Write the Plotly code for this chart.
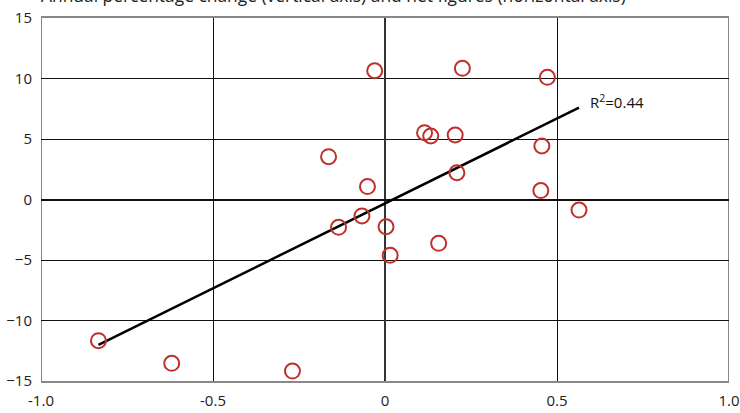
import numpy as np
import plotly.graph_objects as go

net_figures = [-0.833, -0.620, -0.269, -0.164, -0.135, -0.067, -0.051, -0.030, 0.003, 0.015,
               0.115, 0.133, 0.156, 0.204, 0.209, 0.225, 0.453, 0.456, 0.472, 0.564]
annual_change = [-11.67, -13.54, -14.18, 3.54, -2.30, -1.36, 1.07, 10.64, -2.25, -4.61,
                 5.52, 5.25, -3.62, 5.33, 2.21, 10.84, 0.74, 4.42, 10.10, -0.87]
x_ticks = [-1.0, -0.5, 0, 0.5, 1.0]
x_tick_labels = ["-1.0", "-0.5", "0", "0.5", "1.0"]
y_ticks = [-15, -10, -5, 0, 5, 10, 15]
title_text = "Annual percentage change (vertical axis) and net figures (horizontal axis)"

x = np.array(net_figures)
y = np.array(annual_change)
slope, intercept = np.polyfit(x, y, 1)
pred = slope * x + intercept
r2 = 1 - ((y - pred) ** 2).sum() / ((y - y.mean()) ** 2).sum()
fx = np.array([x.min(), x.max()])
fy = slope * fx + intercept

font = "Open Sans, Noto Sans, sans-serif"
fig = go.Figure()
fig.add_trace(go.Scatter(x=fx, y=fy, mode="lines", line=dict(color="black", width=2.5),
                         hoverinfo="skip", showlegend=False))
fig.add_trace(go.Scatter(x=net_figures, y=annual_change, mode="markers",
                         marker=dict(symbol="circle-open", size=15, color="#c0302b",
                                     line=dict(width=2, color="#c0302b")),
                         showlegend=False))

fig.add_annotation(x=fx[1], y=fy[1], xref="x", yref="y", text="R<sup>2</sup>=0.44",
                   showarrow=False, xanchor="left", yanchor="bottom", xshift=9, yshift=-6,
                   font=dict(family=font, size=15, color="#111"))
fig.add_annotation(x=0, y=1, xref="paper", yref="paper", text=title_text, showarrow=False,
                   xanchor="left", yanchor="bottom", yshift=9, xshift=-2,
                   font=dict(family=font, size=17.4, color="#222"))

fig.update_layout(
    width=740, height=413,
    margin=dict(l=41, r=11, t=18, b=32, autoexpand=False),
    paper_bgcolor="white", plot_bgcolor="white",
    font=dict(family=font, size=15, color="#222"),
)
fig.update_xaxes(range=[-1, 1], tickvals=x_ticks, ticktext=x_tick_labels, automargin=False,
                 showgrid=True, gridcolor="#111", gridwidth=1,
                 zeroline=True, zerolinecolor="#333", zerolinewidth=2,
                 showline=True, linecolor="#888", linewidth=2, mirror=True,
                 ticks="", ticklabelstandoff=5)
fig.update_yaxes(range=[-15, 15], tickvals=y_ticks, automargin=False,
                 showgrid=True, gridcolor="#111", gridwidth=1,
                 zeroline=True, zerolinecolor="#111", zerolinewidth=1.5,
                 showline=False, ticks="", ticklabelstandoff=8)
fig.add_shape(type="line", xref="x", yref="paper", x0=-1, x1=-1, y0=0, y1=1,
              line=dict(color="#111", width=1))
fig.add_shape(type="line", xref="x", yref="paper", x0=1, x1=1, y0=0, y1=1,
              line=dict(color="#111", width=1))

fig.write_html("out.html", config={"displayModeBar": False},
               post_script="document.body.style.margin='0';")
